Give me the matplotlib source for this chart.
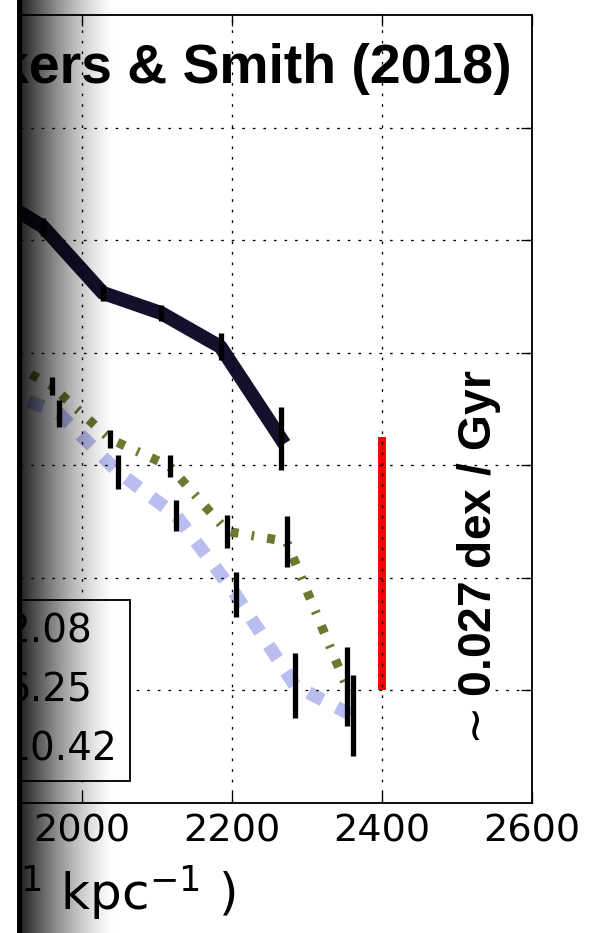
import numpy as np
import matplotlib
matplotlib.use('Agg')
import matplotlib.pyplot as plt

# old-style unscaled dash patterns (points)
plt.rcParams['lines.scale_dashes'] = False
plt.rcParams['lines.dotted_pattern'] = [1, 3]
plt.rcParams['lines.dashed_pattern'] = [6, 6]
plt.rcParams['lines.dashdot_pattern'] = [3, 5, 1, 5]
plt.rcParams['xtick.direction'] = 'in'
plt.rcParams['ytick.direction'] = 'in'
plt.rcParams['xtick.major.size'] = 4
plt.rcParams['ytick.major.size'] = 4
plt.rcParams['xtick.major.width'] = 0.5
plt.rcParams['ytick.major.width'] = 0.5
plt.rcParams['axes.linewidth'] = 0.7

# mean [Fe/H] against guiding angular momentum, one curve per age bin
ages = ['2.08', '6.25', '10.42']

lz_young = [1880, 1948, 2028, 2106, 2185, 2265]
feh_young = [0.040, 0.012, -0.047, -0.065, -0.095, -0.176]
err_young = [0.008, 0.008, 0.007, 0.007, 0.012, 0.028]

lz_mid = [1877, 1960, 2038, 2117, 2194, 2273, 2353]
feh_mid = [-0.098, -0.130, -0.177, -0.201, -0.259, -0.268, -0.397]
err_mid = [0.008, 0.008, 0.008, 0.010, 0.015, 0.023, 0.035]

lz_old = [1880, 1969, 2048, 2126, 2205, 2284, 2362]
feh_old = [-0.130, -0.154, -0.206, -0.245, -0.315, -0.396, -0.423]
err_old = [0.010, 0.012, 0.015, 0.014, 0.020, 0.029, 0.036]

# size of the quoted gradient over the age range
slope = 0.027
age_span = 10.42 - 2.08
bar_lz = 2400
bar_low = -0.40

W, H, DPI = 615, 933, 190
fig = plt.figure(figsize=(W / DPI, H / DPI), dpi=DPI)
ax = fig.add_axes([-143.2 / W, 130.5 / H, 675.0 / W, 787.5 / H])

ax.plot(lz_young, feh_young, '-', color='#150f2c', lw=5.3, label=ages[0])
ax.plot(lz_mid, feh_mid, '-.', color='#6a7a30', lw=3.5, label=ages[1])
ax.plot(lz_old, feh_old, '--', color='#b9bdf0', lw=5, label=ages[2])
for x, y, e in [(lz_young, feh_young, err_young),
                (lz_mid, feh_mid, err_mid),
                (lz_old, feh_old, err_old)]:
    ax.errorbar(x, y, yerr=e, fmt='none', ecolor='k', elinewidth=2, capsize=0)

ax.plot([bar_lz, bar_lz], [bar_low, bar_low + slope * age_span],
        color='r', lw=3, solid_capstyle='butt')

ax.set_xlim(1700, 2600)
ax.set_ylim(-0.5, 0.2)
ax.set_xticks([1800, 2000, 2200, 2400, 2600])
ax.set_yticks(np.arange(-0.4, 0.15, 0.1))
ax.tick_params(top=True, right=True, labelsize=14.5, pad=4)
ax.set_axisbelow(False)
ax.grid(True, ls=':', color='k', lw=0.5)

ax.set_xlabel(r'$L_z$ (km s$^{-1}$ kpc$^{-1}$ )', fontsize=19)
ax.xaxis.set_label_coords(236 / W, 1 - 910 / H, transform=fig.transFigure)
ax.xaxis.label.set_ha('right')
ax.xaxis.label.set_va('baseline')

fig.text(512 / W, 1 - 83 / H, 'Vickers & Smith (2018)', ha='right',
         va='baseline', fontsize=21, fontweight='bold',
         family='Liberation Sans')
fig.text(479 / W, 1 - 561 / H, r'$\sim$0.027 dex / Gyr', rotation=90,
         ha='center', va='center', fontsize=17.5, fontweight='bold',
         family='Liberation Sans')

leg = ax.legend(loc='upper right', bbox_to_anchor=(130 / W, 1 - 600 / H),
                bbox_transform=fig.transFigure, borderaxespad=0,
                fontsize=14.8, fancybox=False, framealpha=1,
                borderpad=0.33, labelspacing=0.53, handlelength=2.0)
leg.get_frame().set_edgecolor('k')
leg.get_frame().set_linewidth(0.7)

# shadow along the left edge of the page
xs = np.arange(W)
rgba = np.zeros((1, W, 4))
rgba[0, xs < 17, :] = 1.0
rgba[0, (xs >= 17) & (xs < 22), 3] = 1.0
fade = (xs >= 22) & (xs < 115)
rgba[0, fade, 3] = 0.85 * (1 - (xs[fade] - 22) / 93.0) ** 1.4
over = fig.add_axes([0, 0, 1, 1], zorder=10)
over.imshow(rgba, aspect='auto', extent=(0, W, 0, 1), interpolation='nearest')
over.set_axis_off()

fig.savefig('out.png', dpi=DPI)
